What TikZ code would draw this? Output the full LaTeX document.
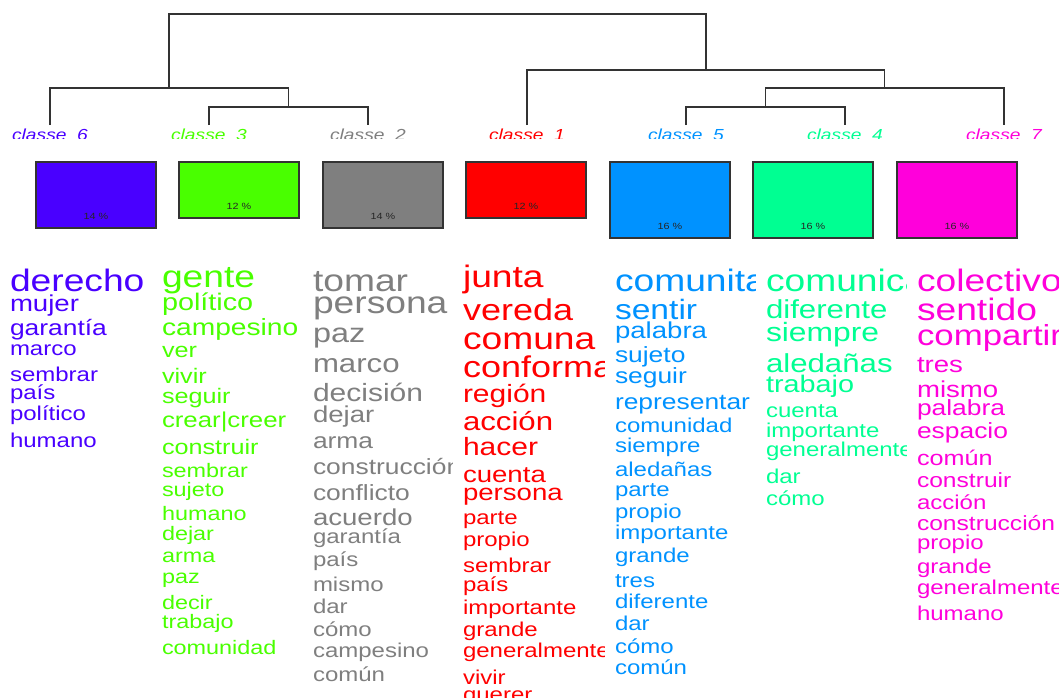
\documentclass[tikz,border=0pt]{standalone}
\usepackage{fontspec}
\setmainfont[FakeStretch=1.2]{Liberation Sans}
\definecolor{cA}{HTML}{FF0000}
\definecolor{cB}{HTML}{7F7F7F}
\definecolor{cC}{HTML}{49FF00}
\definecolor{cD}{HTML}{00FF92}
\definecolor{cE}{HTML}{0092FF}
\definecolor{cF}{HTML}{4900FF}
\definecolor{cG}{HTML}{FF00DB}
\definecolor{treegray}{HTML}{333333}
\tikzset{
  word/.style={anchor=base west, inner sep=0pt, outer sep=0pt},
  lab/.style={anchor=base, inner sep=0pt, font=\fontsize{16}{16}\selectfont\itshape},
  tree/.style={draw=treegray, line width=1.3pt},
  classbox/.style={draw=treegray, line width=1.3pt},
  pct/.style={inner sep=0pt, text=black!85, font=\fontsize{9}{9}\selectfont}
}
\begin{document}
\begin{tikzpicture}[x=1pt,y=-1pt]
\useasboundingbox (0,0) rectangle (1059,697);
\clip (0,0) rectangle (1059,697);
% leaves and junctions
\coordinate (n6) at (50,125);
\coordinate (n3) at (209,125);
\coordinate (n2) at (368,125);
\coordinate (n1) at (527,125);
\coordinate (n5) at (686,125);
\coordinate (n4) at (845,125);
\coordinate (n7) at (1004,125);
\coordinate (j32) at (288.5,107);
\coordinate (j632) at (169,88);
\coordinate (j54) at (765.5,107);
\coordinate (j547) at (884.5,88);
\coordinate (j1547) at (706,70);
\coordinate (root) at (437.5,14);
% dendrogram
\draw[tree] (n3) |- (j32) -| (n2);
\draw[tree] (n6) |- (j632) -| (j32);
\draw[tree] (n5) |- (j54) -| (n4);
\draw[tree] (j54) |- (j547) -| (n7);
\draw[tree] (n1) |- (j1547) -| (j547);
\draw[tree] (j632) |- (root) -| (j1547);
% class labels
\begin{scope}
\clip (0,0) rectangle (1059,138.5);
\node[lab, text=cF] (lab6) at (50,140) {classe\ \ 6};
\node[lab, text=cC] (lab3) at (209,140) {classe\ \ 3};
\node[lab, text=cB] (lab2) at (368,140) {classe\ \ 2};
\node[lab, text=cA] (lab1) at (527,140) {classe\ \ 1};
\node[lab, text=cE] (lab5) at (686,140) {classe\ \ 5};
\node[lab, text=cD] (lab4) at (845,140) {classe\ \ 4};
\node[lab, text=cG] (lab7) at (1004,140) {classe\ \ 7};
\end{scope}
% boxes
\draw[classbox, fill=cF] (36,162) rectangle (156,228);
\draw[classbox, fill=cC] (179,162) rectangle (299,218);
\draw[classbox, fill=cB] (323,162) rectangle (443,228);
\draw[classbox, fill=cA] (466,162) rectangle (586,218);
\draw[classbox, fill=cE] (610,162) rectangle (730,238);
\draw[classbox, fill=cD] (753,162) rectangle (873,238);
\draw[classbox, fill=cG] (897,162) rectangle (1017,238);
\node[pct] (p6) at (96,216) {14 \%};
\node[pct] (p3) at (239,206) {12 \%};
\node[pct] (p2) at (383,216) {14 \%};
\node[pct] (p1) at (526,206) {12 \%};
\node[pct] (p5) at (670,226) {16 \%};
\node[pct] (p4) at (813,226) {16 \%};
\node[pct] (p7) at (957,226) {16 \%};
% column classe 6
\begin{scope}
\clip (0,250) rectangle (152,697);
\foreach \w/\y/\s [count=\i] in {derecho/291/31, mujer/311/23, garantía/335/22, marco/355/20, sembrar/381/20, país/399/20, político/420/20, humano/447/20}
  \node[word, text=cF, font=\fontsize{\s}{\s}\selectfont] (wF-\i) at (10,\y) {\w};
\end{scope}
% column classe 3
\begin{scope}
\clip (152,250) rectangle (303,697);
\foreach \w/\y/\s [count=\i] in {gente/287/31, político/310/24, campesino/335/23.5, ver/357/21, vivir/383/21, seguir/403/21, crear|creer/427/21.5, construir/454/21, sembrar/477/19.5, sujeto/496/19.5, humano/520/19.5, dejar/540/19.5, arma/562/19.5, paz/583/19.5, decir/609/19.5, trabajo/628/19.5, comunidad/654/19.5}
  \node[word, text=cC, font=\fontsize{\s}{\s}\selectfont] (wC-\i) at (162,\y) {\w};
\end{scope}
% column classe 2
\begin{scope}
\clip (303,250) rectangle (452,697);
\foreach \w/\y/\s [count=\i] in {tomar/291/31, persona/313/31, paz/342/27, marco/372/26, decisión/401/25, dejar/422/23, arma/448/22, construcción/474/22, conflicto/500/22, acuerdo/525/23, garantía/543/20, país/566/20, mismo/591/20, dar/613/20, cómo/636/20, campesino/657/20, común/681/20}
  \node[word, text=cB, font=\fontsize{\s}{\s}\selectfont] (wB-\i) at (313,\y) {\w};
\end{scope}
% column classe 1
\begin{scope}
\clip (452,250) rectangle (604,697);
\foreach \w/\y/\s [count=\i] in {junta/287/31, vereda/320/30, comuna/349/31, conformar/377/30, región/402/25, acción/430/26, hacer/455/25, cuenta/482/23, persona/500/23, parte/524/20, propio/546/20, sembrar/572/20, país/591/20, importante/614/20, grande/636/20, generalmente/657/20, vivir/684/20, querer/701/20}
  \node[word, text=cA, font=\fontsize{\s}{\s}\selectfont] (wA-\i) at (463,\y) {\w};
\end{scope}
% column classe 5
\begin{scope}
\clip (604,250) rectangle (755,697);
\foreach \w/\y/\s [count=\i] in {comunitario/291/31, sentir/319/28, palabra/338/23, sujeto/362/22, seguir/383/22, representar/409/22, comunidad/432/20, siempre/452/20, aledañas/476/20, parte/496/20, propio/518/20, importante/539/20, grande/562/20, tres/587/20, diferente/608/20, dar/630/20, cómo/653/20, común/674/20}
  \node[word, text=cE, font=\fontsize{\s}{\s}\selectfont] (wE-\i) at (615,\y) {\w};
\end{scope}
% column classe 4
\begin{scope}
\clip (755,250) rectangle (906,697);
\foreach \w/\y/\s [count=\i] in {comunicación/291/31, diferente/318/26, siempre/341/26.5, aledañas/372/26, trabajo/392/24, cuenta/417/20, importante/437/20, generalmente/456/20, dar/483/20, cómo/505/20}
  \node[word, text=cD, font=\fontsize{\s}{\s}\selectfont] (wD-\i) at (766,\y) {\w};
\end{scope}
% column classe 7
\begin{scope}
\clip (906,250) rectangle (1059,697);
\foreach \w/\y/\s [count=\i] in {colectivo/291/31, sentido/320/31, compartir/345/29, tres/372/23, mismo/397/23, palabra/415/22, espacio/438/22, común/465/21, construir/487/20.5, acción/509/20, construcción/530/20.5, propio/549/20, grande/573/20, generalmente/594/20, humano/620/20}
  \node[word, text=cG, font=\fontsize{\s}{\s}\selectfont] (wG-\i) at (917,\y) {\w};
\end{scope}
\end{tikzpicture}
\end{document}
